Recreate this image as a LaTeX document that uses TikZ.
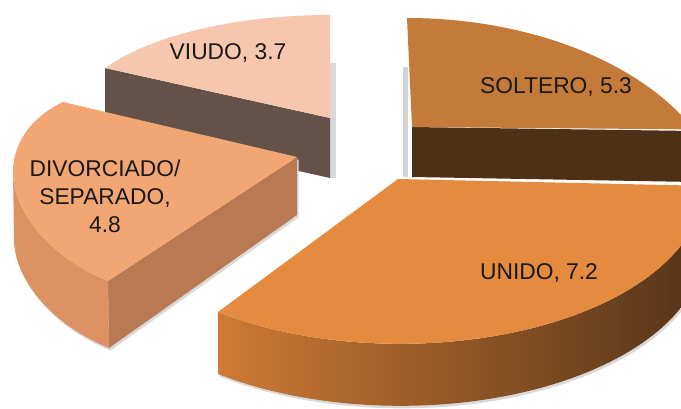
\documentclass[tikz,border=0pt]{standalone}
\usepackage{fontspec}
\setmainfont{Liberation Sans}
\definecolor{solterotop}{RGB}{196, 122, 56}
\definecolor{solteroside}{RGB}{78, 48, 22}
\definecolor{unidotop}{RGB}{228, 139, 64}
\definecolor{unidolight}{RGB}{206, 122, 52}
\definecolor{unidodark}{RGB}{84, 51, 24}
\definecolor{divtop}{RGB}{242, 166, 116}
\definecolor{divside}{RGB}{221, 146, 100}
\definecolor{divfront}{RGB}{185, 122, 83}
\definecolor{viudotop}{RGB}{246, 199, 174}
\definecolor{viudoside}{RGB}{100, 82, 72}

\begin{document}
\begin{tikzpicture}[x=1pt, y=-1pt,
  lbl/.style={font=\fontsize{22.8}{28}\selectfont, align=center, inner sep=0pt, text=black!90},
  shadow/.style={fill=gray!30, xshift=1.5pt, yshift=-2.5pt}]
  \useasboundingbox (0,0) rectangle (681,409);
  \clip (0,0) rectangle (681,409);

  % VIUDO
  \fill[gray!30] (330,63) rectangle (336,178);
  \fill[viudoside] (105,68) -- (330,118) -- (330,178) -- (105,128) -- cycle;
  \fill[viudotop] (330,118) -- (330,15) arc[start angle=-90, end angle=-151, x radius=257, y radius=103] -- cycle;

  % SOLTERO
  \fill[gray!35] (403,67) rectangle (408,177);
  \fill[solteroside] (412,127) -- (694,131) -- (694,182) -- (412,177) -- cycle;
  \fill[solterotop] (412,127) -- (407,18) arc[start angle=-90, end angle=-27, x radius=322, y radius=204] -- cycle;

  % DIVORCIADO / SEPARADO
  \fill[shadow] (297,157) -- (13,172) -- (14,239) .. controls (14,282) and (56,327) .. (109,348) -- (297,215) -- cycle;
  \fill[divfront] (297,157) -- (108,281) -- (109,348) -- (297,215) -- cycle;
  \fill[divside] (13,172) .. controls (13,215) and (55,260) .. (108,281) -- (109,348) .. controls (56,327) and (14,282) .. (14,239) -- cycle;
  \fill[divtop] (297,157) -- (63,102) .. controls (35,115) and (13,140) .. (13,172) .. controls (13,215) and (55,260) .. (108,281) -- cycle;

  % UNIDO
  \fill[shadow] (218,312) arc[start angle=127, end angle=0, x radius=303, y radius=158] -- ++(0,62) arc[start angle=0, end angle=127, x radius=303, y radius=158] -- cycle;
  \shade[left color=unidolight, right color=unidodark] (218,312) arc[start angle=127, end angle=0, x radius=303, y radius=158] -- ++(0,62) arc[start angle=0, end angle=127, x radius=303, y radius=158] -- cycle;
  \fill[unidotop] (398,179) -- (218,312) arc[start angle=127, end angle=0, x radius=303, y radius=158] -- cycle;

  % Labels
  \node[lbl] (viudo) at (228,53) {VIUDO, 3.7};
  \node[lbl] (soltero) at (556,87) {SOLTERO, 5.3};
  \node[lbl] (unido) at (539,273) {UNIDO, 7.2};
  \node[lbl] (divorciado) at (105,196) {DIVORCIADO/\\SEPARADO,\\4.8};
\end{tikzpicture}
\end{document}
